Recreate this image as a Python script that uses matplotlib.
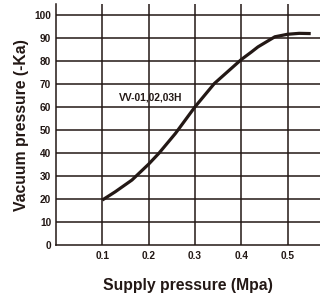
import matplotlib
matplotlib.use("Agg")
import matplotlib.pyplot as plt

supply = [0.10, 0.128, 0.164, 0.20, 0.222, 0.258, 0.30, 0.342, 0.40, 0.422, 0.436, 0.4725, 0.50, 0.525, 0.55]
vacuum = [19.6, 23.2, 28.3, 35.2, 39.9, 48.6, 60.1, 70.3, 80.7, 84.0, 86.2, 90.6, 91.7, 92.1, 92.0]
x_ticks = [0.1, 0.2, 0.3, 0.4, 0.5]
x_tick_labels = ["0.1", "0.2", "0.3", "0.4", "0.5"]
y_ticks = [0, 10, 20, 30, 40, 50, 60, 70, 80, 90, 100]
label_text = "VV-01,02,03H"

plt.rcParams['font.family'] = ['Liberation Sans', 'DejaVu Sans']
ink = '#231815'

fig = plt.figure(figsize=(3.2, 2.96), dpi=100)
ax = fig.add_axes([0.175, 0.172, 0.825, 0.814])

ax.set_xlim(0, 0.57)
ax.set_ylim(0, 104.8)

for xv in x_ticks:
    ax.axvline(xv, color=ink, lw=1.1, zorder=1)
for yv in y_ticks[1:]:
    ax.axhline(yv, color=ink, lw=1.1, zorder=1)

ax.plot(supply, vacuum, color=ink, lw=2.3, solid_capstyle='butt',
        solid_joinstyle='round', zorder=3)

ax.text(0.205, 64, label_text, fontsize=7.4, fontweight='bold', color=ink,
        ha='center', va='center', zorder=4)

for s in ['top', 'right']:
    ax.spines[s].set_visible(False)
for s in ['left', 'bottom']:
    ax.spines[s].set_color(ink)
    ax.spines[s].set_linewidth(1.1)

ax.set_xticks(x_ticks)
ax.set_xticklabels(x_tick_labels)
ax.set_yticks(y_ticks)
ax.tick_params(length=0, labelsize=7.3, colors=ink)
ax.tick_params(axis='y', pad=3.5)
ax.tick_params(axis='x', pad=4.5)
for lab in ax.get_xticklabels() + ax.get_yticklabels():
    lab.set_fontweight('bold')

ax.set_xlabel("Supply pressure (Mpa)", fontsize=11.3, fontweight='bold', color=ink, labelpad=12)
ax.set_ylabel("Vacuum pressure (-Ka)", fontsize=11.3, fontweight='bold', color=ink, labelpad=4)

fig.savefig("out.png", dpi=100)
